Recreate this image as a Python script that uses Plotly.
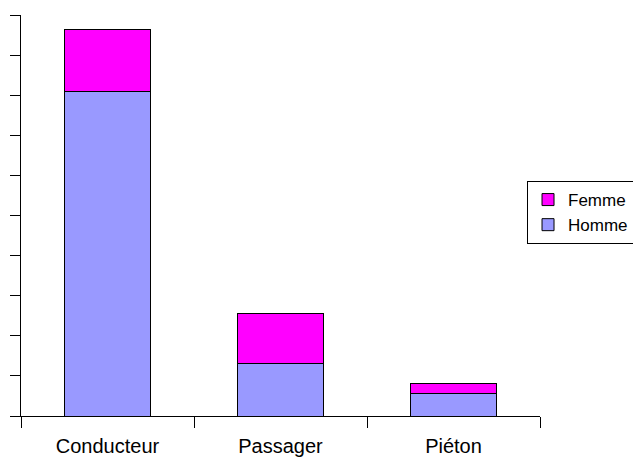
import plotly.graph_objects as go

categories = ["Conducteur", "Passager", "Piéton"]
homme = [8.09, 1.32, 0.55]
femme = [1.55, 1.23, 0.25]

fig = go.Figure()
fig.add_trace(go.Bar(
    x=categories, y=homme, name="Homme", width=0.5,
    marker=dict(color="#9999FF", line=dict(color="#000000", width=1)),
))
fig.add_trace(go.Bar(
    x=categories, y=femme, name="Femme", width=0.5,
    marker=dict(color="#FF00FF", line=dict(color="#000000", width=1)),
))

fig.update_layout(
    barmode="stack",
    width=633, height=459,
    margin=dict(l=21, r=93, t=15, b=42.5, autoexpand=False),
    paper_bgcolor="white", plot_bgcolor="white",
    font=dict(family="Liberation Sans, Arial, sans-serif", color="#000000"),
    showlegend=True,
    legend=dict(
        x=0.975, y=0.586, xanchor="left", yanchor="top",
        traceorder="reversed",
        bordercolor="#000000", borderwidth=1,
        font=dict(size=17),
        itemwidth=30, tracegroupgap=0,
    ),
    xaxis=dict(
        type="category", tickson="boundaries",
        ticks="outside", ticklen=11, tickcolor="#000000",
        showline=True, linecolor="#000000", linewidth=1,
        showgrid=False, zeroline=False,
        tickfont=dict(size=20),
        ticklabelstandoff=12,
        range=[-0.5, 2.5],
    ),
    yaxis=dict(
        range=[0, 10], dtick=1, tick0=0,
        ticks="outside", ticklen=10, tickcolor="#000000",
        showticklabels=False,
        showline=True, linecolor="#000000", linewidth=1,
        showgrid=False, zeroline=False,
    ),
)

fig.write_html("out.html")
